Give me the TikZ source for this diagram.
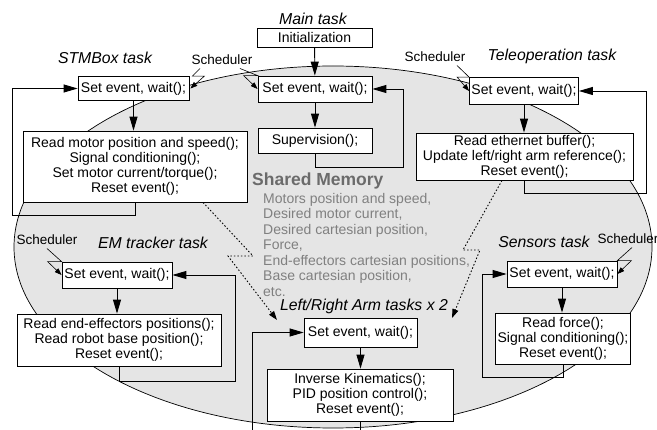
\documentclass[tikz,border=0pt]{standalone}
\usepackage{fontspec}
\setmainfont{Liberation Sans}
\usetikzlibrary{calc}
\usetikzlibrary{arrows.meta}
\definecolor{memfill}{gray}{0.9}
\definecolor{memtitle}{gray}{0.42}
\definecolor{memtext}{gray}{0.5}

\begin{document}
\begin{tikzpicture}[
     x=1pt,y=-1pt,
     box/.style={draw,fill=white,align=center,inner sep=2pt,line width=0.8pt,
       font=\fontsize{14}{15}\selectfont},
     lbl/.style={font=\fontsize{15.8}{18}\selectfont\itshape},
     sched/.style={font=\fontsize{13.5}{15}\selectfont},
     flow/.style={line width=0.9pt,-{Triangle[length=14pt,width=8pt]}},
     tick/.style={line width=0.6pt,-{Triangle[length=7pt,width=5pt]}},
     shared/.style={line width=0.9pt,dash pattern=on 1.5pt off 2pt,
       -{Triangle[length=9pt,width=6pt]}}
   ]
   \path[use as bounding box] (0,0) rectangle (657,430);
   % Shared memory.
   \draw[line width=0.7pt,fill=memfill] (333,247) ellipse [x radius=319,y radius=181];
   \node[anchor=base west,inner sep=0pt,text=memtitle,
     font=\fontsize{17.5}{20}\selectfont\bfseries] (memtitle) at (252,186) {Shared Memory};
   \node[anchor=north west,inner sep=0pt,align=left,text=memtext,
     font=\fontsize{14}{15.5}\selectfont] (memlist) at (263,193)
     {Motors position and speed,\\Desired motor current,\\Desired cartesian position,\\Force,\\
      End-effectors cartesian positions,\\Base cartesian position,\\etc.};
   % Main task.
   \node[lbl] (mainlbl) at (313,19) {Main task};
   \node[box,minimum width=115,minimum height=19] (init) at (314.5,37.5) {Initialization};
   \node[box,minimum width=114,minimum height=26] (mainset) at (315,89) {Set event, wait();};
   \node[box,minimum width=114,minimum height=25] (superv) at (315,140.5) {Supervision();};
   \draw[flow] (init) -- (mainset);
   \draw[flow] (mainset) -- (superv);
   \draw[flow] (superv.south) -- ++(0,14) -- ++(88,0) |- (mainset.east);
   % STMBox task.
   \node[lbl] (stmlbl) at (105,58) {STMBox task};
   \node[box,minimum width=111,minimum height=24] (stmset) at (133.5,88.5) {Set event, wait();};
   \node[box,minimum width=224,minimum height=71] (stmrun) at (135,166.5)
     {Read motor position and speed();\\Signal conditioning();\\Set motor current/torque();\\Reset event();};
   \draw[flow] (stmset.south) -- (stmset.south |- stmrun.north);
   \draw[flow] (stmrun.south) -- ++(0,13) -- ++(-123,0) |- (stmset.west);
   % Teleoperation task.
   \node[lbl] (tellbl) at (552,56) {Teleoperation task};
   \node[box,minimum width=108,minimum height=27] (telset) at (524,91) {Set event, wait();};
   \node[box,minimum width=217,minimum height=47] (telrun) at (524.5,156.5)
     {Read ethernet buffer();\\Update left/right arm reference();\\Reset event();};
   \draw[flow] (telset.south) -- (telset.south |- telrun.north);
   \draw[flow] (telrun.south) -- ++(0,13) -- ++(122,0) |- (telset.east);
   % EM tracker task.
   \node[lbl] (emlbl) at (153,243) {EM tracker task};
   \node[box,minimum width=110,minimum height=26] (emset) at (117,275) {Set event, wait();};
   \node[box,minimum width=204,minimum height=52] (emrun) at (119,340)
     {Read end-effectors positions();\\Read robot base position();\\Reset event();};
   \draw[flow] (emset.south) -- (emset.south |- emrun.north);
   \draw[flow] (emrun.south) -- ++(0,15) -- ++(116,0) |- (emset.east);
   % Left/Right arm tasks.
   \node[lbl] (armlbl) at (364,306) {Left/Right Arm tasks x 2};
   \node[box,minimum width=113,minimum height=29] (armset) at (360.5,332.5) {Set event, wait();};
   \node[box,minimum width=186,minimum height=52] (armrun) at (360,395)
     {Inverse Kinematics();\\PID position control();\\Reset event();};
   \draw[flow] (armset.south) -- (armset.south |- armrun.north);
   \draw[flow] (armrun.south) -- ++(0,25) -- ++(-108,0) |- (armset.west);
   % Sensors task.
   \node[lbl] (senlbl) at (544,242) {Sensors task};
   \node[box,minimum width=110,minimum height=26] (senset) at (562,274) {Set event, wait();};
   \node[box,minimum width=134,minimum height=51] (senrun) at (563,338.5)
     {Read force();\\Signal conditioning();\\Reset event();};
   \draw[flow] (senset.south) -- (senset.south |- senrun.north);
   \draw[flow] (senrun.south) -- ++(0,13) -- ++(-81,0) |- (senset.west);
   % Schedulers.
   \node[sched] (sch1) at (222,60) {Scheduler};
   \node[sched] (sch2) at (435,57) {Scheduler};
   \node[sched] (sch3) at (47,240) {Scheduler};
   \node[sched] (sch4) at (628,239) {Scheduler};
   \draw[tick] ($(sch1.south)+(-22,0)$) -- ($(stmset.north east)+(3,0)$) -- ++(12,0) -- ($(stmset.east)+(1,0)$);
   \draw[tick] ($(sch1.south)+(18,0)$) -- (mainset.north west) -- ++(-14,0) -- (mainset.west);
   \draw[tick] ($(sch2.south)+(22,0)$) -- (telset.north west) -- ++(-12,0) -- (telset.west);
   \draw[tick] (sch3.south) -- (emset.north west) -- ++(-14,0) -- (emset.west);
   \draw[tick] ($(sch4.south)+(4,0)$) -- (senset.north east) -- ++(14,0) -- (senset.east);
   % Shared memory access.
   \coordinate (zl1) at (253,256);
   \coordinate (zl2) at (228,256);
   \coordinate (zlend) at (277,320);
   \coordinate (zr1) at (463,250);
   \coordinate (zr2) at (480,250);
   \coordinate (zrend) at (452,318);
   \draw[shared] ($(stmrun.south)+(68,0)$) -- (zl1) -- (zl2) -- (zlend);
   \draw[shared] ($(telrun.south)+(-22.5,0)$) -- (zr1) -- (zr2) -- (zrend);
 \end{tikzpicture}
\end{document}
